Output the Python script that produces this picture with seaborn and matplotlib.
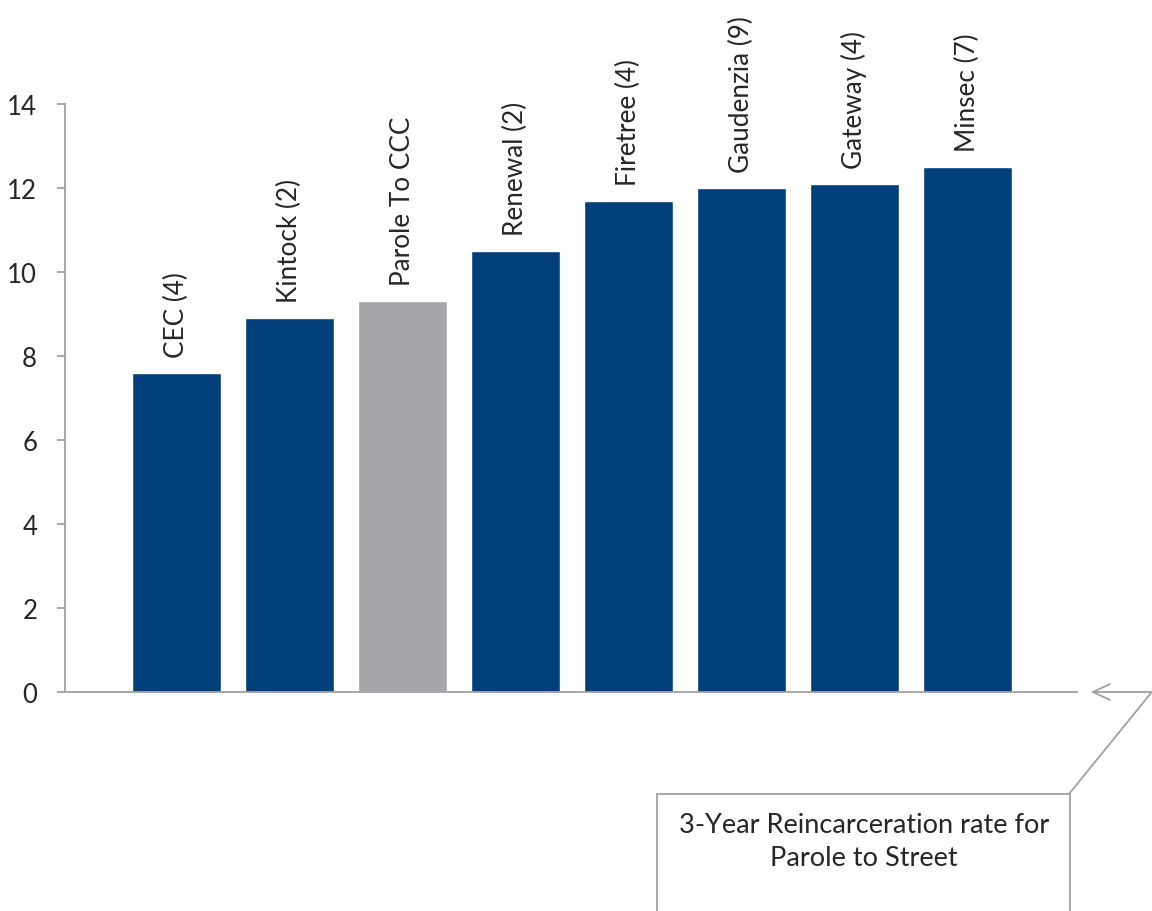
import numpy as np
import pandas as pd
import matplotlib
matplotlib.use("Agg")
import matplotlib.pyplot as plt
import seaborn as sns
from matplotlib.lines import Line2D
from matplotlib.patches import Rectangle

programs = ["CEC (4)", "Kintock (2)", "Parole To CCC", "Renewal (2)",
            "Firetree (4)", "Gaudenzia (9)", "Gateway (4)", "Minsec (7)"]
rates = [7.6, 8.9, 9.3, 10.5, 11.7, 12.0, 12.1, 12.5]
y_ticks = [0, 2, 4, 6, 8, 10, 12, 14]
callout_text = "3-Year Reincarceration rate for\nParole to Street"

BLUE = "#033F7A"
GRAY_BAR = "#A5A6AA"
AXIS_GRAY = "#A0A0A0"

sns.set_style("white")
plt.rcParams["font.family"] = ["Lato", "DejaVu Sans"]

df = pd.DataFrame({"program": programs, "rate": rates})
palette = {p: (GRAY_BAR if p == "Parole To CCC" else BLUE) for p in programs}

W, H = 1152, 912
fig = plt.figure(figsize=(W / 100, H / 100), dpi=100)
ax = fig.add_axes([65 / W, 1 - 693 / H, (1077 - 65) / W, (693 - 105) / H])

sns.barplot(data=df, x="program", y="rate", hue="program", palette=palette,
            width=0.79, saturation=1, legend=False, ax=ax)

ax.set_ylim(0, 14)
ax.set_xlim(-0.987, 7.97)
ax.set_yticks(y_ticks)
ax.set_yticklabels([str(t) for t in y_ticks], fontsize=18.5)
ax.set_xticks([])
ax.set_xlabel("")
ax.set_ylabel("")
ax.tick_params(axis="y", left=True, length=6, width=1.3, color=AXIS_GRAY,
               direction="out", pad=14)
for side in ["top", "right"]:
    ax.spines[side].set_visible(False)
for side in ["left", "bottom"]:
    ax.spines[side].set_color(AXIS_GRAY)
    ax.spines[side].set_linewidth(1.3)

for i, (p, v) in enumerate(zip(programs, rates)):
    ax.text(i, v + 0.38, p, rotation=90, ha="center", va="bottom",
            fontsize=18.8, clip_on=False)

# callout: arrow line, leader and box
def px(x, y):
    return x / W, 1 - y / H

lw = 1.3
fig.add_artist(Line2D(*zip(px(1093, 693), px(1152, 693)), color=AXIS_GRAY, lw=lw))
fig.add_artist(Line2D(*zip(px(1110, 685), px(1093, 693), px(1110, 701)),
                      color=AXIS_GRAY, lw=lw))
fig.add_artist(Line2D(*zip(px(1151, 694), px(1069, 795)), color=AXIS_GRAY, lw=lw))
x0, y0 = px(657, 930)
x1, y1 = px(1070, 795)
fig.add_artist(Rectangle((x0, y0), x1 - x0, y1 - y0, transform=fig.transFigure,
                         fill=False, edgecolor=AXIS_GRAY, lw=lw))
fig.text(*px(864, 842), callout_text, ha="center", va="center",
         fontsize=19.5, linespacing=1.4)

fig.savefig("out.png", dpi=100)
